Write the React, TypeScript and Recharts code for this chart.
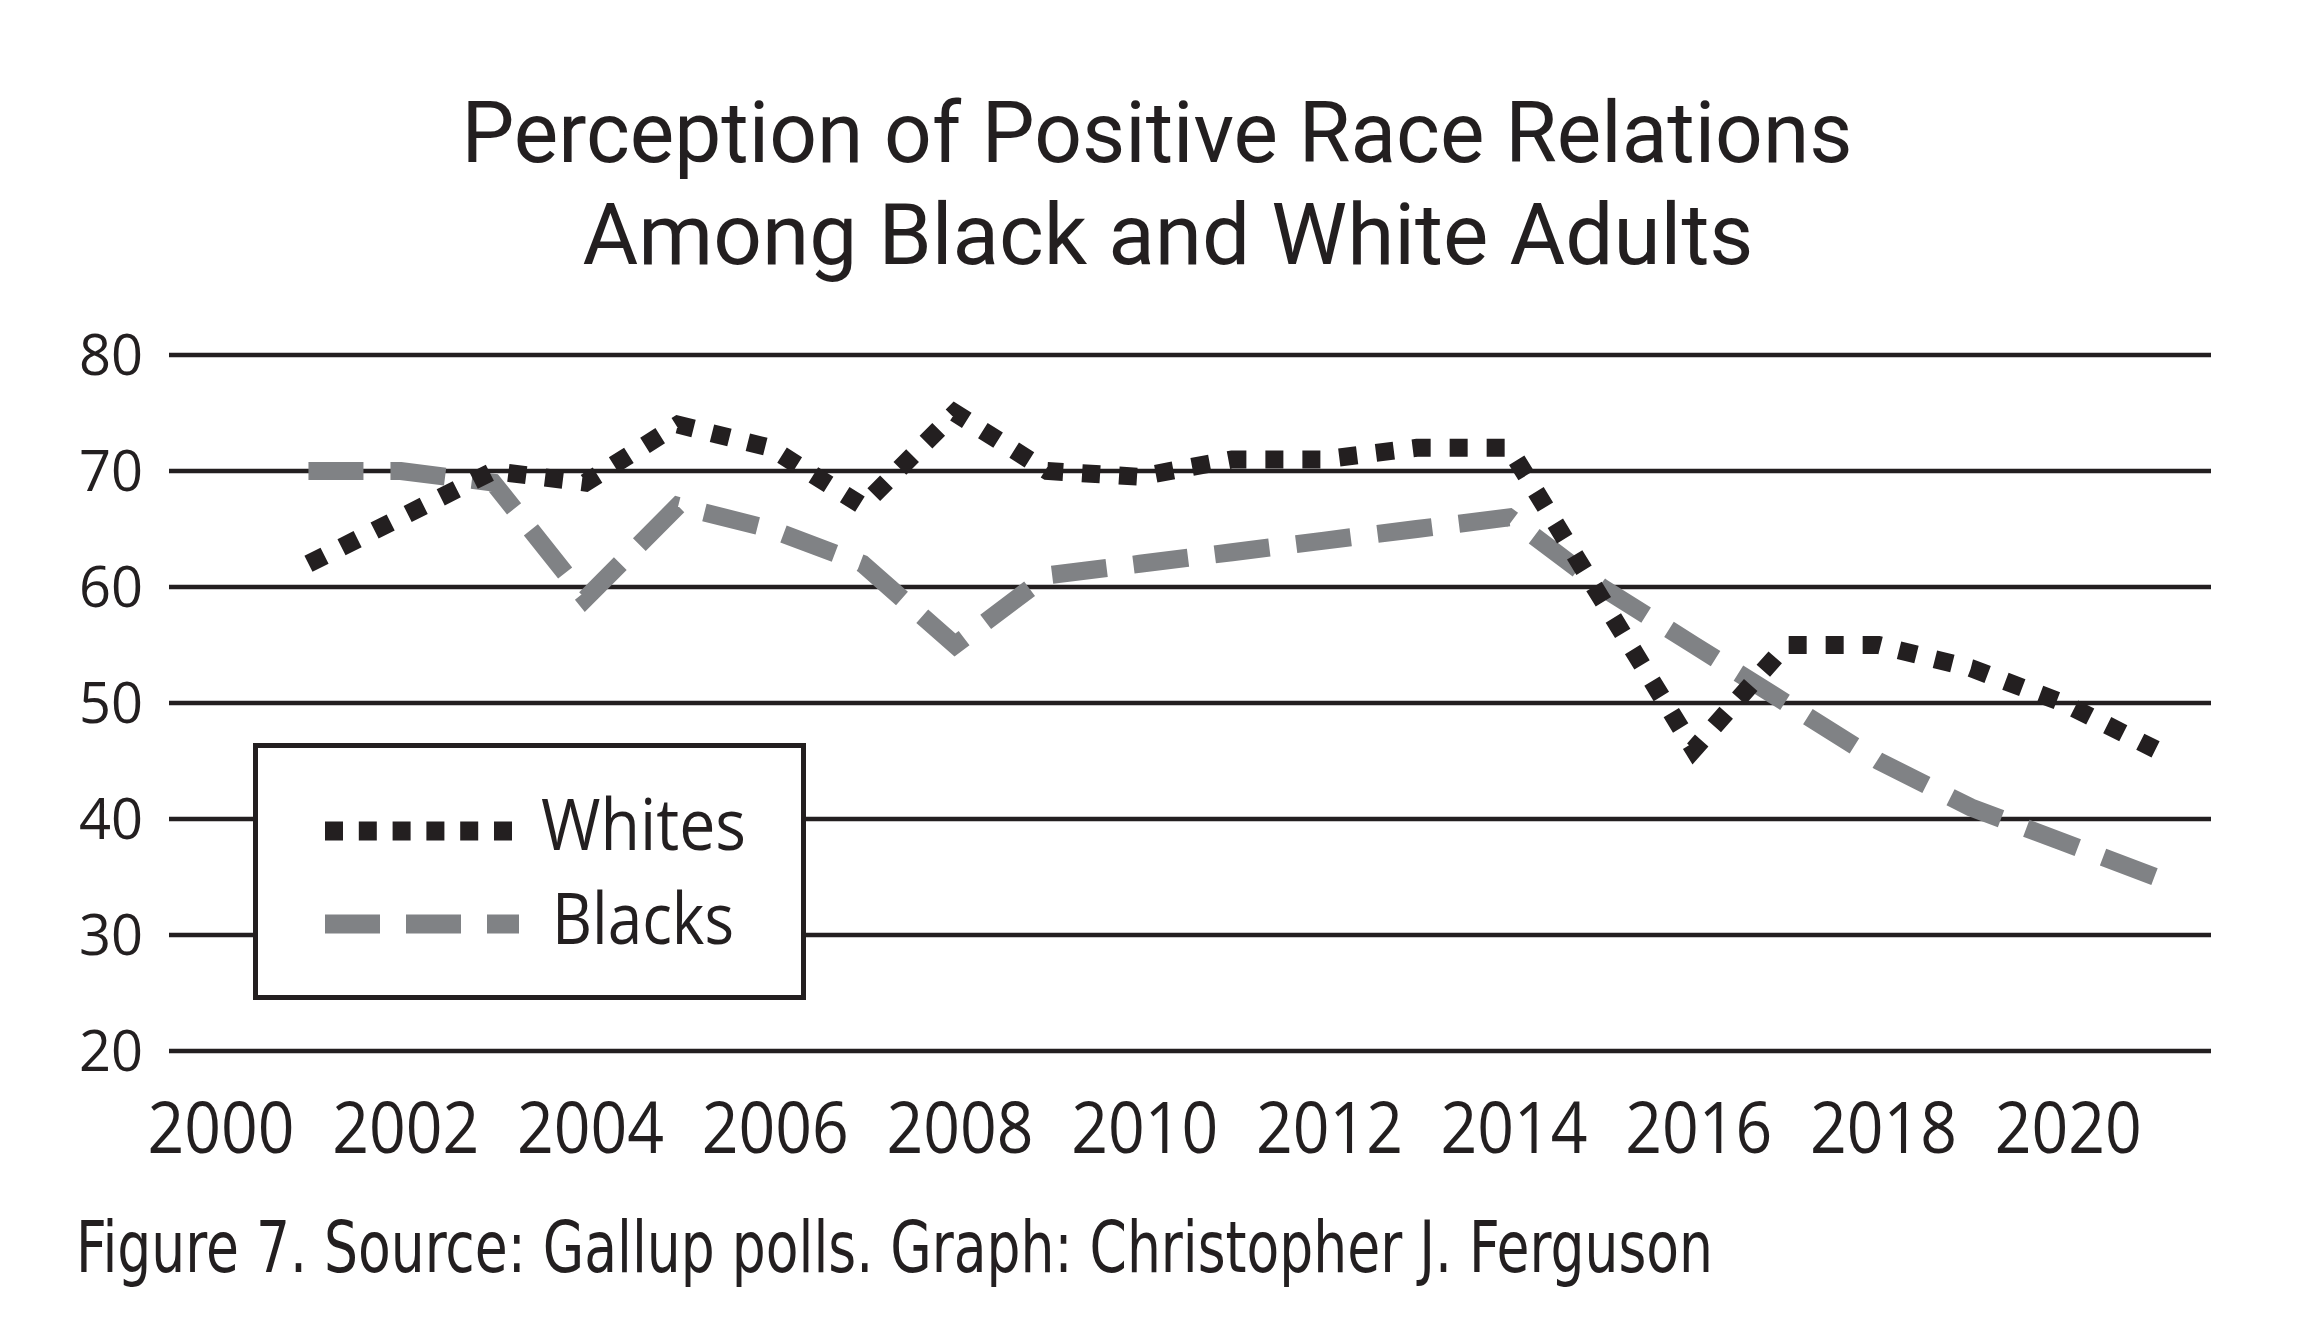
import React from 'react';
import { LineChart, Line, XAxis, YAxis, CartesianGrid, Legend } from 'recharts';

const years = [
  2001, 2002, 2003, 2004, 2005, 2006, 2007, 2008, 2009, 2010, 2011,
  2012, 2013, 2014, 2015, 2016, 2017, 2018, 2019, 2020, 2021,
];
const whites = [62, 66, 70, 69, 74, 72, 67, 75, 70, 69.5, 71, 71, 72, 72, 59, 46, 55, 55, 53, 50, 46];
const blacks = [70, 70, 69, 59, 67, 65, 62, 55, 61, 62, 63, 64, 65, 66, 60, 55, 50, 45, 41, 38, 35];

const xTicks = [2000, 2002, 2004, 2006, 2008, 2010, 2012, 2014, 2016, 2018, 2020];
const yTicks = [20, 30, 40, 50, 60, 70, 80];

const titleLines = ['Perception of Positive Race Relations', 'Among Black and White Adults'];
const footer = 'Figure 7. Source: Gallup polls. Graph: Christopher J. Ferguson';

const INK = '#231f20';
const GREY = '#808285';
const FONT = '"Open Sans", "Noto Sans", sans-serif';
const TITLE_FONT = 'Roboto, "Open Sans", sans-serif';
const NARROW = '"Liberation Sans Narrow", "DejaVu Sans Condensed", "Roboto", sans-serif';

const data = years.map((year, i) => ({ year, whites: whites[i], blacks: blacks[i] }));

const XTick = ({ x, y, payload }: any) => (
  <text
    x={x + 5}
    y={y + 102}
    textAnchor="middle"
    fontFamily={FONT}
    fontSize={72}
    fill={INK}
    textLength={147}
    lengthAdjust="spacingAndGlyphs"
  >
    {payload.value}
  </text>
);

const YTick = ({ x, y, payload }: any) => (
  <text x={x} y={y + 20} textAnchor="end" fontFamily={FONT} fontSize={56} fill={INK}>
    {payload.value}
  </text>
);

const renderLegend = () => (
  <svg width={553} height={257}>
    <rect x={2.5} y={2.5} width={548} height={252} fill="#fff" stroke={INK} strokeWidth={5} />
    <line x1={72} y1={88} x2={260} y2={88} stroke={INK} strokeWidth={19} strokeDasharray="18 15.8" />
    <text x={288} y={107} fontFamily={FONT} fontSize={72} fill={INK} textLength={205} lengthAdjust="spacingAndGlyphs">
      Whites
    </text>
    <line x1={72} y1={181} x2={266} y2={181} stroke={GREY} strokeWidth={19} strokeDasharray="55 26" />
    <text x={299} y={201} fontFamily={FONT} fontSize={72} fill={INK} textLength={182} lengthAdjust="spacingAndGlyphs">
      Blacks
    </text>
  </svg>
);

export default function App() {
  return (
    <div style={{ position: 'absolute', left: 0, top: 0, width: 2300, height: 1344, background: '#fff' }}>
      <LineChart
        width={2300}
        height={1344}
        data={data}
        margin={{ top: 355, right: 89, left: 69, bottom: 173 }}
      >
        <CartesianGrid horizontal vertical={false} stroke={INK} strokeWidth={4.5} />
        <XAxis
          dataKey="year"
          type="number"
          domain={[1999.49, 2021.6]}
          ticks={xTicks}
          allowDataOverflow
          axisLine={false}
          tickLine={false}
          tickSize={0}
          tickMargin={0}
          height={120}
          tick={<XTick />}
          interval={0}
        />
        <YAxis
          domain={[20, 80]}
          ticks={yTicks}
          axisLine={false}
          tickLine={false}
          tickSize={0}
          tickMargin={26}
          width={100}
          tick={<YTick />}
          interval={0}
        />
        <Legend
          layout="horizontal"
          verticalAlign="middle"
          align="center"
          content={renderLegend}
          wrapperStyle={{ position: 'absolute', left: 253, top: 743, width: 553, height: 257 }}
        />
        <Line
          type="linear"
          dataKey="blacks"
          name="Blacks"
          stroke={GREY}
          strokeWidth={18}
          strokeDasharray="55 27"
          dot={false}
          activeDot={false}
          isAnimationActive={false}
        />
        <Line
          type="linear"
          dataKey="whites"
          name="Whites"
          stroke={INK}
          strokeWidth={18}
          strokeDasharray="18 19"
          dot={false}
          activeDot={false}
          isAnimationActive={false}
        />
      </LineChart>
      <svg
        width={2300}
        height={1344}
        style={{ position: 'absolute', left: 0, top: 0, pointerEvents: 'none' }}
      >
        <text x={1157} y={162} textAnchor="middle" fontFamily={TITLE_FONT} fontSize={85} fill={INK} textLength={1391} lengthAdjust="spacingAndGlyphs">
          {titleLines[0]}
        </text>
        <text x={1168} y={264} textAnchor="middle" fontFamily={TITLE_FONT} fontSize={85} fill={INK} textLength={1171} lengthAdjust="spacingAndGlyphs">
          {titleLines[1]}
        </text>
        <text x={76} y={1272} fontFamily={NARROW} fontSize={72} fill={INK} textLength={1637} lengthAdjust="spacingAndGlyphs">
          {footer}
        </text>
      </svg>
    </div>
  );
}
